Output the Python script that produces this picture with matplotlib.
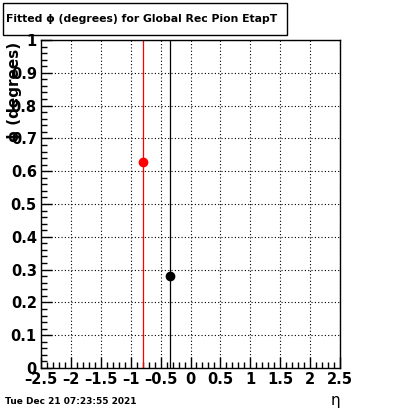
import matplotlib
matplotlib.use("Agg")
import matplotlib.pyplot as plt
from matplotlib.ticker import MultipleLocator
from matplotlib.patches import Rectangle

# data
eta = [-0.79, -0.34]
phi = [0.628, 0.28]
phi_err = [2.0, 2.0]
colors = ["red", "black"]

title = "Fitted \u03d5 (degrees) for Global Rec Pion EtapT"
date_txt = "Tue Dec 21 07:23:55 2021"

fig = plt.figure(figsize=(4.0, 4.09), dpi=100)
ax = fig.add_axes([41/400, 1-368/409, 299/400, 328/409])

for x, y, e, c in zip(eta, phi, phi_err, colors):
    ax.errorbar([x], [y], yerr=[e], fmt="o", color=c, ms=6, elinewidth=0.9, capsize=0)

ax.set_xlim(-2.5, 2.5)
ax.set_ylim(0, 1)
ax.xaxis.set_major_locator(MultipleLocator(0.5))
ax.xaxis.set_minor_locator(MultipleLocator(0.1))
ax.yaxis.set_major_locator(MultipleLocator(0.1))
ax.yaxis.set_minor_locator(MultipleLocator(0.02))
ax.grid(True, which="major", color="black", linestyle=(0, (1, 2)), linewidth=0.8)
ax.tick_params(which="major", direction="in", length=8, width=1, pad=3)
ax.tick_params(which="minor", direction="in", length=4, width=1)
ax.tick_params(top=False, right=False, which="both")
ax.set_xticks(ax.get_xticks())
ax.set_xticklabels([("\u2013" if v < 0 else "") + ("%g" % abs(v)) for v in ax.get_xticks()])
ax.set_yticks(ax.get_yticks())
ax.set_yticklabels(["%g" % v for v in ax.get_yticks()])
for lab in ax.get_xticklabels() + ax.get_yticklabels():
    lab.set_fontweight("bold")
    lab.set_fontsize(10.5)
ax.set_xlim(-2.5, 2.5)
ax.set_ylim(0, 1)
for s in ax.spines.values():
    s.set_linewidth(1)

fig.text(15/400, 1-42/409, "\u03d5 (degrees)", rotation=90, ha="center", va="top",
         fontsize=11, fontweight="bold")
fig.text(335/400, 1-400/409, "\u03b7", ha="center", va="center", fontsize=11)
fig.text(5/400, 1-401/409, date_txt, ha="left", va="center", fontsize=6.5, fontweight="bold")

fig.patches.append(Rectangle((3/400, 1-35/409), 284/400, 32/409, transform=fig.transFigure,
                             fill=False, edgecolor="black", linewidth=1))
fig.text(6/400, 1-19/409, title, ha="left", va="center", fontsize=7.8, fontweight="bold")

fig.savefig("out.png", dpi=100)
